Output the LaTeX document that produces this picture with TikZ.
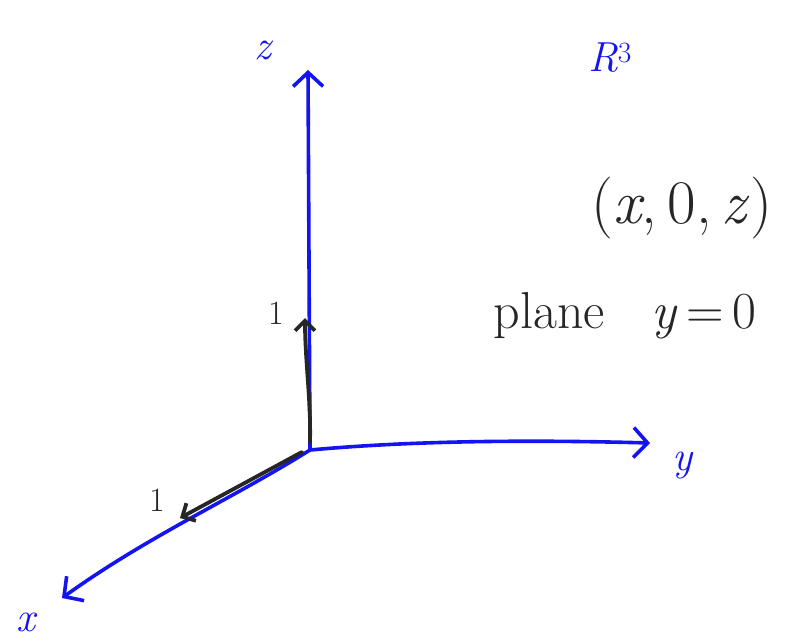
\documentclass[tikz,border=0pt]{standalone}
\usepackage{fontspec}
\usetikzlibrary{arrows.meta}
\begin{document}
\begin{tikzpicture}[x=1pt,y=-1pt,
  axis/.style={draw=axisblue,line width=3.6pt,line cap=round,line join=round,
    -{Straight Barb[length=14pt,width=30pt,line width=3.6pt]}},
  unitvec/.style={draw=black!85,line width=3.8pt,line cap=round,line join=round,
    -{Straight Barb[length=10pt,width=20pt,line width=3.8pt]}},
  blab/.style={text=axisblue,inner sep=0pt,font=\fontsize{42}{46}\selectfont\itshape},
  klab/.style={text=black!85,inner sep=0pt,font=\fontsize{34}{38}\selectfont},
  big/.style={text=black!85,inner sep=0pt,font=\fontsize{62}{66}\selectfont}]
\definecolor{axisblue}{RGB}{20,20,240}
\useasboundingbox (0,0) rectangle (798,640);
% axes
\coordinate (O) at (310,450);
\coordinate (zt) at (308,70);
\coordinate (yt) at (650,443);
\coordinate (xt) at (62,598);
\coordinate (zu) at (305,318);
\coordinate (xu) at (180,518);
\draw[axis] (O) -- (zt);
\draw[axis] (O) .. controls (420,440) and (540,440) .. (yt);
\draw[axis] (O) .. controls (230,500) and (150,535) .. (xt);
% unit vectors
\draw[unitvec] ([shift={(0,-8)}]O) .. controls (311,400) and (305,360) .. (zu);
\draw[unitvec] ([shift={(-8,2)}]O) -- (xu);
% labels
\node[klab] (one1) at (276,313) {1};
\node[klab] (one2) at (157,500) {1};
\node[blab] (zl) at (263,50) {z};
\node[blab] (yl) at (682,466) {y};
\node[blab] (xl) at (26,622) {x};
\node[blab] (R3) at (610,58) {R\textsuperscript{\upshape 3}};
\node[big] (pt) at (682,208) {(\textit{x},\,0,\,\textit{z})};
\node[text=black!85,inner sep=0pt,font=\fontsize{52}{56}\selectfont] (pl) at (625,316) {plane\hspace{0.9em}\textit{y}\,=\,0};
\end{tikzpicture}
\end{document}
